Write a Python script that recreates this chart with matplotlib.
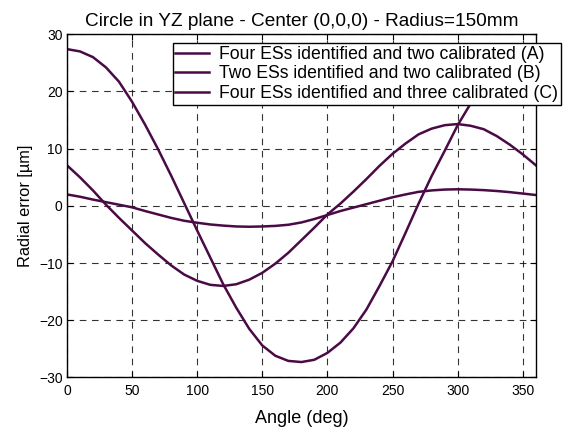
import matplotlib
matplotlib.use("Agg")
import matplotlib.pyplot as plt

plt.rcParams['font.family'] = ['Liberation Sans', 'DejaVu Sans']

angle = [0, 10, 20, 30, 40, 50, 60, 70, 80, 90, 100, 110, 120, 130, 140, 150, 160, 170, 180,
         190, 200, 210, 220, 230, 240, 250, 260, 270, 280, 290, 300, 310, 320, 330, 340, 350, 360]

err_a = [27.4, 27.0, 26.0, 24.2, 21.7, 18.2, 14.2, 9.9, 5.3, 0.5, -4.3, -9.0, -13.7, -17.8, -21.5,
         -24.4, -26.2, -27.1, -27.3, -26.9, -25.7, -23.9, -21.4, -18.1, -14.0, -9.7, -4.7, 0.4,
         5.2, 9.6, 14.1, 17.9, 21.2, 23.8, 25.7, 26.9, 27.4]

err_b = [7.1, 5.0, 2.7, 0.2, -2.1, -4.3, -6.5, -8.5, -10.4, -12.0, -13.1, -13.8, -14.0, -13.7,
         -12.9, -11.7, -10.1, -8.2, -6.0, -3.8, -1.5, 0.4, 2.5, 4.7, 7.0, 9.1, 10.9, 12.5, 13.5,
         14.1, 14.3, 14.0, 13.4, 12.2, 10.7, 9.0, 7.1]

err_c = [2.0, 1.6, 1.1, 0.65, 0.2, -0.25, -0.9, -1.5, -2.1, -2.6, -2.95, -3.25, -3.45, -3.6,
         -3.65, -3.6, -3.5, -3.3, -2.9, -2.3, -1.6, -0.9, -0.3, 0.3, 0.9, 1.5, 2.0, 2.45, 2.7,
         2.85, 2.9, 2.85, 2.75, 2.6, 2.4, 2.15, 1.9]

labels = ["Four ESs identified and two calibrated (A)",
          "Two ESs identified and two calibrated (B)",
          "Four ESs identified and three calibrated (C)"]

xticks = [0, 50, 100, 150, 200, 250, 300, 350]
yticks = [-30, -20, -10, 0, 10, 20, 30]

color = '#4a0a45'

fig = plt.figure(figsize=(5.67, 4.28), dpi=100)
ax = fig.add_axes([0.118, 0.118, 0.827, 0.802])

for ys, lab in zip([err_a, err_b, err_c], labels):
    ax.plot(angle, ys, color=color, lw=1.8, label=lab)

ax.set_xlim(0, 360)
ax.set_ylim(-30, 30)
ax.set_xticks(xticks)
ax.set_yticks(yticks)
ax.grid(True, color='black', linestyle=(0, (6, 5)), linewidth=0.8, alpha=0.8)
ax.tick_params(direction='in', top=True, right=True, length=4, labelsize=10, width=0.8)
ax.tick_params(axis='x', pad=5)
ax.tick_params(axis='y', pad=3)
for s in ax.spines.values():
    s.set_linewidth(1.0)

ax.set_title("Circle in YZ plane - Center (0,0,0) - Radius=150mm", fontsize=13.7, pad=6)
ax.set_xlabel("Angle (deg)", fontsize=13, labelpad=8)
ax.set_ylabel("Radial error [µm]", fontsize=11.8, labelpad=4)

leg = ax.legend(loc='upper right', bbox_to_anchor=(1.054, 0.974), fontsize=12.7,
                frameon=True, fancybox=False, framealpha=1, edgecolor='black',
                borderpad=0.15, labelspacing=0.15, handlelength=1.9, handletextpad=0.6,
                borderaxespad=0)
leg.get_frame().set_linewidth(1.0)

fig.savefig("out.png", dpi=100)
